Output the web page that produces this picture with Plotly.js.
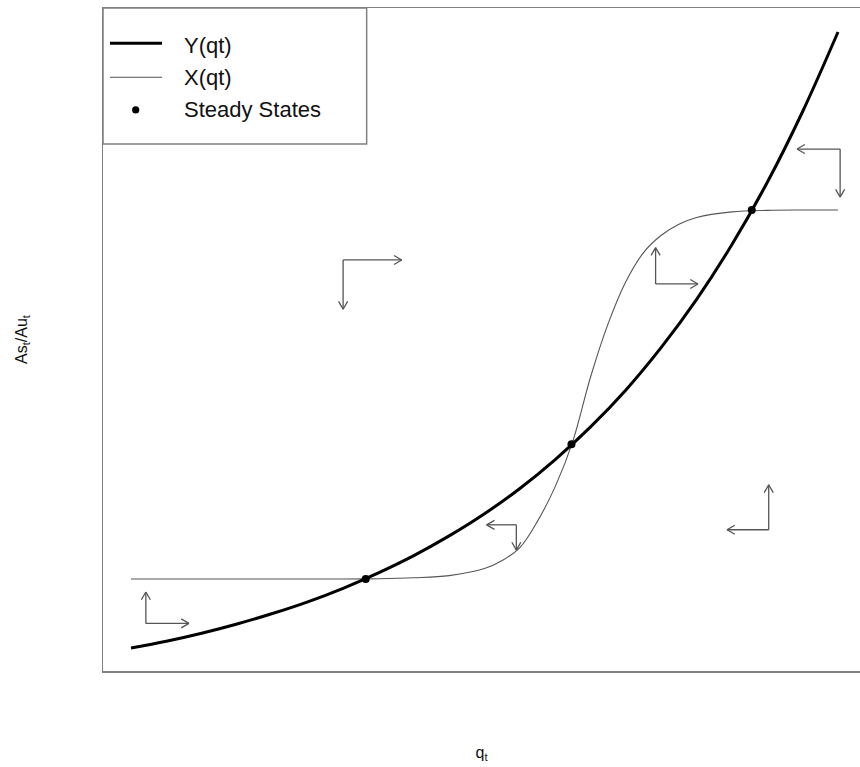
<!DOCTYPE html>
<html>
<head>
<meta charset="utf-8">
<script src="https://cdn.plot.ly/plotly-3.0.1.min.js"></script>
<style>
html,body{margin:0;padding:0;background:#fff;overflow:hidden;}
#chart{width:860px;height:767px;}
</style>
</head>
<body>
<div id="chart"></div>
<script>
// ---- Data (arbitrary units) ----
// Y(qt): thick black curve
const yQ    = [0, 0.5, 1, 1.5, 2, 2.5, 3, 3.5, 4, 4.5, 5, 5.5, 6, 6.5, 7, 7.5, 8, 8.5, 9, 9.5, 10];
const yVals = [0, 0.11, 0.24, 0.39, 0.56, 0.75, 0.97, 1.22, 1.50, 1.82, 2.18, 2.59, 3.06, 3.59, 4.19, 4.88, 5.66, 6.55, 7.56, 8.71, 10.0];

// X(qt): thin grey S-shaped curve
const xQ    = [0, 1, 2, 3, 3.5, 4.0, 4.5, 5.0, 5.25, 5.5, 5.75, 6.0, 6.25, 6.5, 6.75, 7.0, 7.25, 7.5, 7.75, 8.0, 8.5, 9.0, 9.5, 10];
const xVals = [1.12, 1.12, 1.12, 1.121, 1.125, 1.14, 1.175, 1.29, 1.42, 1.63, 2.06, 2.62, 3.36, 4.40, 5.27, 5.95, 6.42, 6.70, 6.88, 6.99, 7.08, 7.105, 7.11, 7.11];

// Steady states
const ssQ = [3.32, 6.23, 8.78];
const ssY = [1.12, 3.31, 7.11];

// Phase arrows: corner point, end of horizontal leg, end of vertical leg
const arrowCornerQ = [3.00, 7.42, 5.45, 9.02, 10.03, 0.21];
const arrowCornerY = [6.30, 5.91, 2.00, 1.92, 8.10, 0.40];
const arrowHEndQ   = [3.83, 8.02, 5.03, 8.43, 9.42, 0.82];
const arrowVEndY   = [5.50, 6.50, 1.59, 2.65, 7.32, 0.91];

// Legend labels
const legendLabels = ['Y(qt)', 'X(qt)', 'Steady States'];

// ---- Geometry of the plot (layout) ----
const W = 860, H = 767;
const M = {l: 103, r: 0, t: 8, b: 96};
const XR = [-0.396, 10.311];
const YR = [-0.373, 10.39];
const pxPerX = (W - M.l - M.r) / (XR[1] - XR[0]);
const pxPerY = (H - M.t - M.b) / (YR[1] - YR[0]);

const FONT = 'Liberation Sans, Arial, Helvetica, sans-serif';
const ARROW_COLOR = '#555555';

// Build arrow legs + open "V" heads (head size in pixels, converted through axis scale)
const HEAD_LEN = 9, HEAD_ANG = Math.PI / 6;
const arrX = [], arrY = [];
function addLeg(x0, y0, x1, y1) {
  arrX.push(x0, x1, null);
  arrY.push(y0, y1, null);
  const dxp = (x1 - x0) * pxPerX, dyp = (y1 - y0) * pxPerY;
  const th = Math.atan2(dyp, dxp);
  [th + Math.PI - HEAD_ANG, th + Math.PI + HEAD_ANG].forEach(a => {
    arrX.push(x1, x1 + HEAD_LEN * Math.cos(a) / pxPerX, null);
    arrY.push(y1, y1 + HEAD_LEN * Math.sin(a) / pxPerY, null);
  });
}
for (let i = 0; i < arrowCornerQ.length; i++) {
  addLeg(arrowCornerQ[i], arrowCornerY[i], arrowHEndQ[i], arrowCornerY[i]);
  addLeg(arrowCornerQ[i], arrowCornerY[i], arrowCornerQ[i], arrowVEndY[i]);
}

const traces = [
  {x: arrX, y: arrY, type: 'scatter', mode: 'lines', name: 'arrows', showlegend: false,
   line: {color: ARROW_COLOR, width: 1.3}, connectgaps: false, hoverinfo: 'skip', cliponaxis: false},
  {x: xQ, y: xVals, type: 'scatter', mode: 'lines', name: legendLabels[1],
   line: {color: '#555555', width: 1.1, shape: 'spline', smoothing: 1}, hoverinfo: 'skip'},
  {x: yQ, y: yVals, type: 'scatter', mode: 'lines', name: legendLabels[0],
   line: {color: '#000000', width: 3, shape: 'spline', smoothing: 1}, hoverinfo: 'skip'},
  {x: ssQ, y: ssY, type: 'scatter', mode: 'markers', name: legendLabels[2],
   marker: {color: '#000000', size: 8}, hoverinfo: 'skip'}
];

// Legend (drawn as in the R original: boxed, top-left)
const annotations = [];
const legendTextY = [0.9434, 0.8952, 0.8462];
legendLabels.forEach((t, i) => {
  annotations.push({
    text: t, xref: 'paper', yref: 'paper', x: 0.1044, y: legendTextY[i],
    xanchor: 'left', yanchor: 'middle', showarrow: false,
    font: {family: FONT, size: 22, color: '#111111'}
  });
});

const shapes = [
  {type: 'rect', xref: 'paper', yref: 'paper', x0: 0, x1: 0.3483, y0: 0.7949, y1: 1,
   line: {color: '#808080', width: 1.5}, fillcolor: 'rgba(0,0,0,0)'},
  {type: 'line', xref: 'paper', yref: 'paper', x0: 0.0092, x1: 0.0779, y0: 0.9468, y1: 0.9468,
   line: {color: '#000000', width: 3}},
  {type: 'line', xref: 'paper', yref: 'paper', x0: 0.0092, x1: 0.0779, y0: 0.8955, y1: 0.8955,
   line: {color: '#555555', width: 1.1}},
  {type: 'circle', xref: 'paper', yref: 'paper', xsizemode: 'pixel', ysizemode: 'pixel',
   xanchor: 0.0432, yanchor: 0.8462, x0: -3.6, x1: 3.6, y0: -3.6, y1: 3.6,
   line: {color: '#000000', width: 0}, fillcolor: '#000000'}
];

const layout = {
  width: W, height: H,
  margin: {l: M.l, r: M.r, t: M.t, b: M.b, pad: 0},
  paper_bgcolor: '#ffffff', plot_bgcolor: '#ffffff',
  showlegend: false,
  font: {family: FONT, color: '#111111'},
  xaxis: {
    range: XR, showgrid: false, zeroline: false,
    showticklabels: false, ticks: '', showline: true, mirror: true,
    linecolor: '#808080', linewidth: 1.5,
    title: {text: 'q<sub>t</sub>', font: {family: FONT, size: 16, color: '#111111'}, standoff: 75}
  },
  yaxis: {
    range: YR, showgrid: false, zeroline: false,
    showticklabels: false, ticks: '', showline: true, mirror: false,
    linecolor: '#808080', linewidth: 1.5,
    title: {text: 'As<sub>t</sub>/Au<sub>t</sub>', font: {family: FONT, size: 16, color: '#111111'}, standoff: 70}
  },
  annotations: annotations,
  shapes: shapes,
  hovermode: false
};

Plotly.newPlot('chart', traces, layout, {staticPlot: true, displayModeBar: false});
</script>
</body>
</html>
